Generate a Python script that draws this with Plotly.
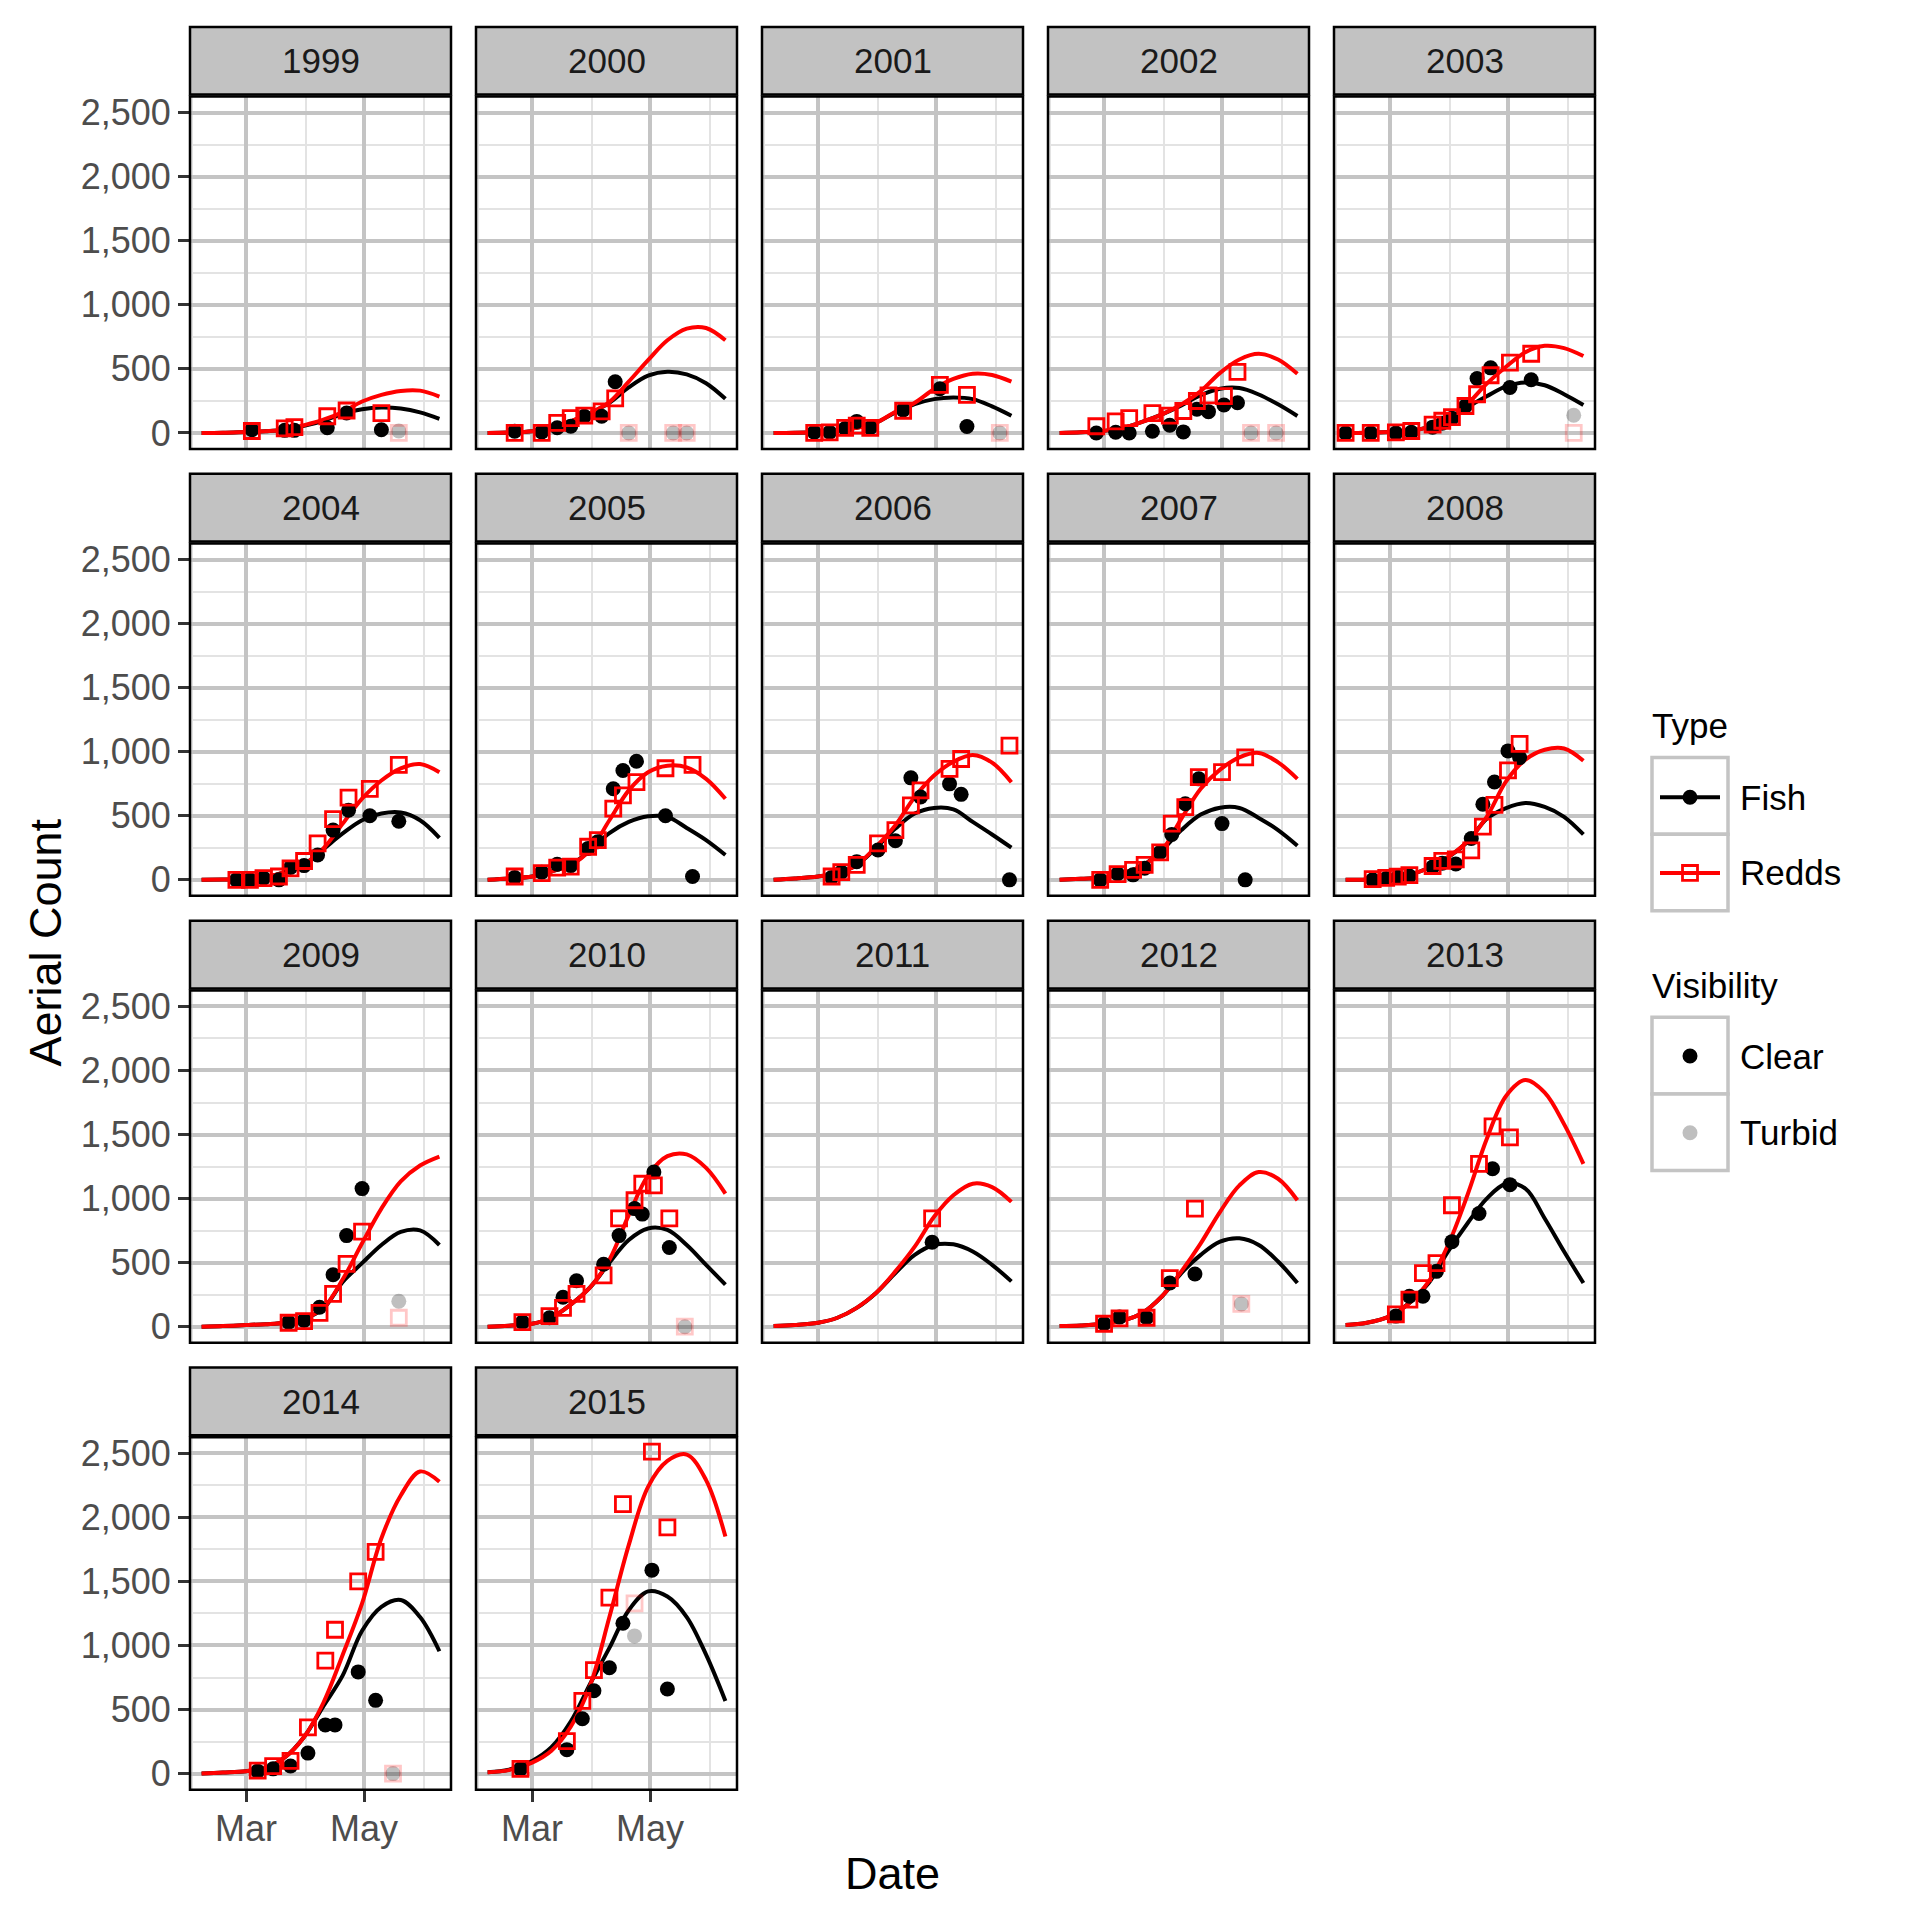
import plotly.graph_objects as go

# ---------------- data ----------------
years = list(range(1999, 2016))
YEAR_PREFIX = "2001-"   # all seasons drawn on a common calendar

curve_dates = ["02-06", "02-17", "03-01", "03-11", "03-21", "03-31", "04-10",
               "04-20", "04-30", "05-10", "05-20", "05-30", "06-09"]

survey_dates = {
    1999: ["03-04", "03-21", "03-26", "04-12", "04-22", "05-10"],
    2000: ["02-20", "03-06", "03-14", "03-21", "03-28", "04-06", "04-13"],
    2001: ["02-27", "03-07", "03-15", "03-21", "03-28", "04-14", "05-03", "05-17"],
    2002: ["02-25", "03-07", "03-14", "03-26", "04-04", "04-11", "04-18", "04-24", "05-02", "05-09"],
    2003: ["02-06", "02-19", "03-04", "03-12", "03-23", "03-28", "04-02", "04-09", "04-15", "04-22", "05-02", "05-13"],
    2004: ["02-24", "03-03", "03-10", "03-18", "03-24", "03-31", "04-07", "04-15", "04-23", "05-04", "05-19"],
    2005: ["02-20", "03-06", "03-14", "03-21", "03-30", "04-04", "04-12", "04-17", "04-24", "05-09", "05-23"],
    2006: ["03-08", "03-13", "03-21", "04-01", "04-10", "04-18", "04-23", "05-08", "05-14", "06-08"],
    2007: ["02-27", "03-08", "03-16", "03-22", "03-30", "04-05", "04-12", "04-19", "05-01", "05-13"],
    2008: ["02-20", "02-27", "03-05", "03-11", "03-23", "03-28", "04-04", "04-12", "04-18", "04-24", "05-01", "05-07"],
    2009: ["03-23", "03-31", "04-08", "04-15", "04-22", "04-30"],
    2010: ["02-24", "03-10", "03-17", "03-24", "04-07", "04-15", "04-23", "04-27", "05-03", "05-11"],
    2011: ["04-29"],
    2012: ["03-01", "03-09", "03-23", "04-04", "04-17"],
    2013: ["03-04", "03-11", "03-18", "03-25", "04-02", "04-16", "04-23", "05-02"],
    2014: ["03-07", "03-15", "03-24", "04-02", "04-11", "04-16", "04-28", "05-07"],
    2015: ["02-23", "03-19", "03-27", "04-02", "04-10", "04-17", "05-02", "05-10"],
}

fish_counts = {
    1999: [25, 20, 20, 40, 155, 25],
    2000: [13, 8, 40, 52, 130, 130, 400],
    2001: [5, 5, 35, 90, 40, 180, 345, 50],
    2002: [0, 5, 0, 13, 60, 8, 185, 166, 218, 236],
    2003: [0, 0, 0, 5, 45, 75, 115, 210, 425, 508, 354, 415],
    2004: [0, 0, 13, 0, 96, 111, 194, 388, 543, 500, 457],
    2005: [18, 60, 121, 111, 245, 297, 711, 853, 925, 500, 26],
    2006: [18, 60, 142, 233, 305, 796, 646, 749, 667, 0],
    2007: [0, 47, 39, 90, 214, 354, 594, 788, 439, 0],
    2008: [0, 10, 20, 30, 100, 130, 123, 323, 590, 763, 1006, 954],
    2009: [36, 49, 152, 406, 711, 1078],
    2010: [36, 70, 230, 359, 488, 711, 922, 879, 1207, 618],
    2011: [659],
    2012: [23, 75, 70, 341, 411],
    2013: [83, 238, 238, 432, 664, 884, 1233, 1109],
    2014: [19, 37, 59, 160, 380, 380, 794, 572],
    2015: [37, 187, 428, 647, 826, 1174, 1588, 660],
}

redd_counts = {
    1999: [15, 35, 45, 130, 175, 155],
    2000: [0, 0, 78, 116, 135, 168, 270],
    2001: [0, 5, 40, 57, 40, 173, 375, 297],
    2002: [52, 90, 116, 155, 135, 171, 249, 293, 288, 477],
    2003: [0, 0, 5, 15, 65, 95, 123, 210, 302, 450, 548, 618],
    2004: [0, 0, 13, 26, 90, 147, 284, 473, 641, 710, 897],
    2005: [26, 52, 96, 103, 258, 310, 555, 659, 762, 871, 897],
    2006: [26, 60, 116, 284, 388, 581, 698, 866, 943, 1047],
    2007: [0, 44, 78, 116, 214, 439, 568, 801, 840, 956],
    2008: [5, 15, 25, 37, 108, 148, 160, 230, 415, 585, 855, 1061],
    2009: [31, 44, 108, 256, 491, 742],
    2010: [36, 83, 147, 256, 400, 845, 987, 1116, 1103, 845],
    2011: [845],
    2012: [23, 65, 70, 380, 922],
    2013: [96, 212, 419, 496, 948, 1271, 1563, 1478],
    2014: [24, 59, 99, 361, 882, 1123, 1500, 1730],
    2015: [37, 254, 567, 807, 1374, 2104, 2513, 1922],
}

turbid_dates = {
    1999: ["05-19"], 2000: ["04-20", "05-13", "05-20"], 2001: ["06-03"],
    2002: ["05-16", "05-29"], 2003: ["06-04"], 2009: ["05-19"],
    2010: ["05-19"], 2012: ["05-11"], 2014: ["05-16"], 2015: ["04-23"],
}
turbid_fish = {
    1999: [15], 2000: [0, 0, 0], 2001: [0], 2002: [0, 0], 2003: [138],
    2009: [199], 2010: [0], 2012: [178], 2014: [0], 2015: [1075],
}
turbid_redds = {
    1999: [0], 2000: [0, 0, 0], 2001: [0], 2002: [0, 0], 2003: [0],
    2009: [70], 2010: [0], 2012: [178], 2014: [0], 2015: [1329],
}

fish_fit = {
    1999: [0, 2, 8, 13, 25, 55, 95, 150, 185, 198, 190, 160, 110],
    2000: [0, 3, 13, 40, 90, 155, 235, 355, 447, 478, 457, 388, 266],
    2001: [0, 2, 8, 20, 40, 80, 160, 225, 264, 276, 264, 207, 134],
    2002: [0, 5, 16, 41, 88, 145, 215, 295, 345, 350, 300, 223, 132],
    2003: [0, 2, 8, 15, 45, 100, 200, 286, 363, 394, 372, 302, 218],
    2004: [0, 2, 5, 20, 60, 121, 240, 362, 465, 517, 525, 465, 328],
    2005: [0, 10, 26, 65, 116, 232, 365, 452, 496, 491, 405, 310, 194],
    2006: [0, 10, 26, 52, 116, 250, 400, 517, 561, 550, 452, 354, 251],
    2007: [0, 8, 18, 52, 111, 232, 388, 509, 563, 561, 483, 388, 266],
    2008: [0, 3, 15, 40, 92, 175, 295, 477, 560, 600, 569, 492, 354],
    2009: [0, 5, 13, 20, 31, 62, 142, 350, 496, 638, 740, 752, 638],
    2010: [0, 8, 23, 70, 173, 307, 500, 677, 767, 755, 638, 483, 328],
    2011: [5, 13, 31, 70, 147, 264, 419, 561, 638, 643, 587, 483, 354],
    2012: [5, 10, 23, 49, 109, 238, 419, 561, 664, 690, 638, 509, 341],
    2013: [13, 31, 83, 186, 341, 587, 806, 1000, 1116, 1078, 845, 587, 341],
    2014: [0, 8, 19, 45, 126, 286, 527, 767, 1115, 1302, 1355, 1222, 955],
    2015: [11, 30, 99, 206, 406, 700, 981, 1275, 1422, 1382, 1222, 928, 567],
}

redd_fit = {
    1999: [0, 2, 8, 13, 25, 60, 103, 163, 245, 297, 328, 330, 284],
    2000: [0, 3, 13, 40, 90, 155, 240, 400, 568, 723, 814, 819, 723],
    2001: [0, 2, 8, 20, 40, 80, 165, 235, 343, 421, 462, 452, 400],
    2002: [0, 5, 16, 41, 88, 145, 223, 326, 469, 573, 617, 573, 461],
    2003: [0, 2, 8, 15, 45, 108, 225, 385, 517, 630, 680, 662, 600],
    2004: [0, 2, 5, 20, 60, 121, 245, 439, 633, 775, 870, 904, 840],
    2005: [0, 10, 26, 65, 116, 232, 465, 698, 840, 891, 878, 788, 633],
    2006: [0, 10, 26, 52, 116, 258, 426, 646, 814, 922, 975, 915, 762],
    2007: [0, 8, 18, 52, 111, 232, 478, 711, 860, 956, 990, 917, 788],
    2008: [0, 3, 15, 40, 92, 178, 300, 492, 769, 938, 1015, 1025, 929],
    2009: [0, 5, 13, 20, 31, 62, 147, 370, 651, 922, 1134, 1258, 1328],
    2010: [0, 8, 23, 70, 173, 307, 522, 871, 1181, 1331, 1345, 1240, 1039],
    2011: [5, 13, 31, 70, 147, 264, 432, 625, 858, 1026, 1116, 1090, 974],
    2012: [5, 10, 23, 49, 109, 238, 432, 651, 897, 1103, 1207, 1155, 987],
    2013: [13, 31, 83, 186, 354, 638, 1026, 1465, 1801, 1925, 1827, 1581, 1271],
    2014: [0, 8, 19, 45, 126, 286, 553, 928, 1329, 1837, 2171, 2358, 2278],
    2015: [11, 27, 86, 179, 366, 687, 1222, 1783, 2238, 2440, 2490, 2291, 1850],
}

x_tick_dates = ["03-01", "05-01"]
x_tick_text = ["Mar", "May"]
x_minor_dates = ["02-01", "04-01", "06-01"]
x_range_dates = ["01-31", "06-15"]
y_ticks = [0, 500, 1000, 1500, 2000, 2500]
y_minor = [250, 750, 1250, 1750, 2250]
y_range = [-125, 2625]

# ---------------- styling / layout ----------------
W = H = 1920
SHIFT = 8            # page offset compensation (px)
FONT = "Liberation Sans, Arial, Helvetica, sans-serif"
MAJOR_GRID = "#C4C4C4"
MINOR_GRID = "#E3E3E3"
STRIP_FILL = "#C2C2C2"
RED = "#FF0000"
LINE_W = 4
DOT_SIZE = 15
SQ_SIZE = 15
TICK_FONT = dict(family=FONT, size=36, color="#4D4D4D")

COL_LEFT0, COL_PITCH, PANEL_W = 190, 286, 261
ROW_PITCH = 449
STRIP_TOP0, STRIP_BOT0 = 23, 91
PANEL_TOP0, PANEL_BOT0 = 93, 447


def d(md):
    return YEAR_PREFIX + md


def px_x(v):
    return (v - SHIFT) / W


def px_y(v):
    return 1 - (v - SHIFT) / H


fig = go.Figure()
shapes = []
annotations = []
layout = {}

for i, yr in enumerate(years):
    r, c = divmod(i, 5)
    k = i + 1
    xname = "xaxis" if k == 1 else f"xaxis{k}"
    yname = "yaxis" if k == 1 else f"yaxis{k}"
    xref = "x" if k == 1 else f"x{k}"
    yref = "y" if k == 1 else f"y{k}"

    left = COL_LEFT0 + COL_PITCH * c
    right = left + PANEL_W
    top = PANEL_TOP0 + ROW_PITCH * r
    bot = PANEL_BOT0 + ROW_PITCH * r

    show_x = yr in (2014, 2015)
    show_y = c == 0

    layout[xname] = dict(
        domain=[px_x(left), px_x(right)], anchor=yref, type="date",
        range=[d(x_range_dates[0]), d(x_range_dates[1])],
        tickvals=[d(t) for t in x_tick_dates], ticktext=x_tick_text,
        showgrid=True, gridcolor=MAJOR_GRID, gridwidth=3.5,
        minor=dict(tickvals=[d(t) for t in x_minor_dates], showgrid=True,
                   gridcolor=MINOR_GRID, gridwidth=2, ticks=""),
        zeroline=False, showline=False,
        showticklabels=show_x, ticks="outside" if show_x else "",
        ticklen=11, tickwidth=2.5, tickcolor="#333333",
        ticklabelstandoff=-4,
        tickfont=TICK_FONT,
        fixedrange=True,
    )
    layout[yname] = dict(
        domain=[px_y(bot), px_y(top)], anchor=xref,
        range=y_range, tickvals=y_ticks, tickformat=",",
        showgrid=True, gridcolor=MAJOR_GRID, gridwidth=3.5,
        minor=dict(tickvals=y_minor, showgrid=True, gridcolor=MINOR_GRID,
                   gridwidth=2, ticks=""),
        zeroline=False, showline=False,
        showticklabels=show_y, ticks="outside" if show_y else "",
        ticklen=11, tickwidth=2.5, tickcolor="#333333",
        tickfont=TICK_FONT,
        fixedrange=True,
    )

    cx = [d(t) for t in curve_dates]
    fig.add_trace(go.Scatter(
        x=cx, y=fish_fit[yr], mode="lines", xaxis=xref, yaxis=yref,
        line=dict(color="black", width=LINE_W, shape="spline", smoothing=1.0),
        showlegend=False, hoverinfo="skip"))
    fig.add_trace(go.Scatter(
        x=cx, y=redd_fit[yr], mode="lines", xaxis=xref, yaxis=yref,
        line=dict(color=RED, width=LINE_W, shape="spline", smoothing=1.0),
        showlegend=False, hoverinfo="skip"))

    if yr in turbid_dates:
        tx = [d(t) for t in turbid_dates[yr]]
        fig.add_trace(go.Scatter(
            x=tx, y=turbid_fish[yr], mode="markers", xaxis=xref, yaxis=yref,
            marker=dict(symbol="circle", size=DOT_SIZE, color="rgba(0,0,0,0.25)",
                        line=dict(width=0)),
            showlegend=False, hoverinfo="skip", cliponaxis=False))
        fig.add_trace(go.Scatter(
            x=tx, y=turbid_redds[yr], mode="markers", xaxis=xref, yaxis=yref,
            marker=dict(symbol="square-open", size=SQ_SIZE, color="rgba(255,0,0,0.22)",
                        line=dict(width=2.8, color="rgba(255,0,0,0.22)")),
            showlegend=False, hoverinfo="skip", cliponaxis=False))

    sx = [d(t) for t in survey_dates[yr]]
    fig.add_trace(go.Scatter(
        x=sx, y=fish_counts[yr], mode="markers", xaxis=xref, yaxis=yref,
        marker=dict(symbol="circle", size=DOT_SIZE, color="black", line=dict(width=0)),
        showlegend=False, hoverinfo="skip", cliponaxis=False))
    fig.add_trace(go.Scatter(
        x=sx, y=redd_counts[yr], mode="markers", xaxis=xref, yaxis=yref,
        marker=dict(symbol="square-open", size=SQ_SIZE, color=RED,
                    line=dict(width=2.8, color=RED)),
        showlegend=False, hoverinfo="skip", cliponaxis=False))

    # panel border
    shapes.append(dict(type="rect", xref="paper", yref="paper",
                       x0=px_x(left), x1=px_x(right), y0=px_y(bot), y1=px_y(top),
                       line=dict(color="black", width=2.5), fillcolor="rgba(0,0,0,0)",
                       layer="above"))
    # strip
    s_top = STRIP_TOP0 + ROW_PITCH * r
    s_bot = STRIP_BOT0 + ROW_PITCH * r
    shapes.append(dict(type="rect", xref="paper", yref="paper",
                       x0=px_x(left), x1=px_x(right), y0=px_y(s_bot), y1=px_y(s_top),
                       line=dict(color="black", width=2.5), fillcolor=STRIP_FILL,
                       layer="above"))
    annotations.append(dict(x=px_x((left + right) / 2), y=px_y((s_top + s_bot) / 2),
                            xref="paper", yref="paper", text=str(yr), showarrow=False,
                            xanchor="center", yanchor="middle",
                            font=dict(family=FONT, size=35, color="#1A1A1A")))

# axis titles
annotations.append(dict(x=px_x(892), y=px_y(1878), xref="paper", yref="paper",
                        text="Date", showarrow=False, xanchor="center", yanchor="middle",
                        font=dict(family=FONT, size=45, color="black")))
annotations.append(dict(x=px_x(46), y=px_y(943), xref="paper", yref="paper",
                        text="Aerial Count", showarrow=False, textangle=-90,
                        xanchor="center", yanchor="middle",
                        font=dict(family=FONT, size=45, color="black")))

# ---------------- legend (drawn manually) ----------------
LX0, LX1 = 1652, 1728
KEY_CX = (LX0 + LX1) / 2
LABEL_X = 1738
KEY_BORDER = "#C4C4C4"


def legend_title(text, yc):
    annotations.append(dict(x=px_x(LX0 - 2), y=px_y(yc), xref="paper", yref="paper",
                            text=text, showarrow=False, xanchor="left", yanchor="middle",
                            font=dict(family=FONT, size=35, color="black")))


def legend_label(text, yc):
    annotations.append(dict(x=px_x(LABEL_X), y=px_y(yc), xref="paper", yref="paper",
                            text=text, showarrow=False, xanchor="left", yanchor="middle",
                            font=dict(family=FONT, size=35, color="black")))


def key_box(y0, y1):
    shapes.append(dict(type="rect", xref="paper", yref="paper",
                       x0=px_x(LX0), x1=px_x(LX1), y0=px_y(y1), y1=px_y(y0),
                       line=dict(color=KEY_BORDER, width=3.5), fillcolor="white"))


def key_line(yc, color):
    shapes.append(dict(type="line", xref="paper", yref="paper",
                       x0=px_x(LX0 + 8), x1=px_x(LX1 - 8), y0=px_y(yc), y1=px_y(yc),
                       line=dict(color=color, width=LINE_W)))


def key_dot(yc, color, rad=7.5):
    shapes.append(dict(type="circle", xref="paper", yref="paper",
                       x0=px_x(KEY_CX - rad), x1=px_x(KEY_CX + rad),
                       y0=px_y(yc + rad), y1=px_y(yc - rad),
                       line=dict(width=0), fillcolor=color))


def key_square(yc, color, half=7.5):
    shapes.append(dict(type="rect", xref="paper", yref="paper",
                       x0=px_x(KEY_CX - half), x1=px_x(KEY_CX + half),
                       y0=px_y(yc + half), y1=px_y(yc - half),
                       line=dict(width=2.8, color=color), fillcolor="rgba(0,0,0,0)"))


legend_title("Type", 725)
key_box(757, 834)
key_box(834, 911)
key_line(797, "black")
key_dot(797, "black")
key_line(873, RED)
key_square(873, RED)
legend_label("Fish", 797)
legend_label("Redds", 873)

legend_title("Visibility", 986)
key_box(1018, 1095)
key_box(1095, 1172)
key_dot(1057, "black")
key_dot(1134, "rgba(0,0,0,0.25)")
legend_label("Clear", 1057)
legend_label("Turbid", 1134)

fig.update_layout(
    width=W, height=H, margin=dict(l=0, r=0, t=0, b=0),
    paper_bgcolor="white", plot_bgcolor="white", showlegend=False,
    shapes=shapes, annotations=annotations, **layout,
)

fig.write_html("out.html")
